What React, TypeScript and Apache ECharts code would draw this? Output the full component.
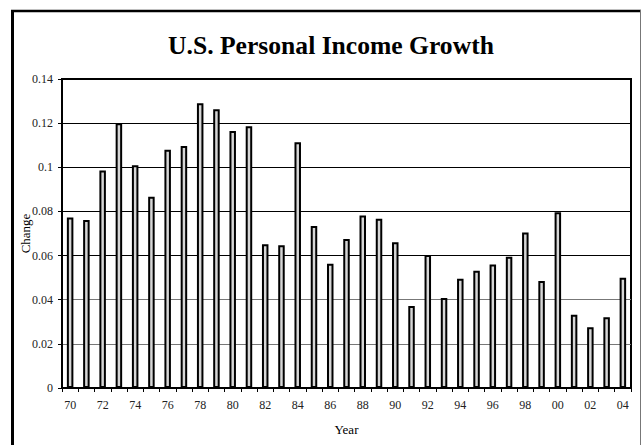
import React, { useEffect, useRef } from "react";
import * as echarts from "echarts";

const years = [
  "70", "71", "72", "73", "74", "75", "76", "77", "78", "79",
  "80", "81", "82", "83", "84", "85", "86", "87", "88", "89",
  "90", "91", "92", "93", "94", "95", "96", "97", "98", "99",
  "00", "01", "02", "03", "04",
];

const changes = [
  0.0773, 0.0761, 0.0986, 0.1199, 0.1009, 0.0867, 0.108, 0.1096, 0.129, 0.1263,
  0.1164, 0.1186, 0.0651, 0.0647, 0.1113, 0.0734, 0.0563, 0.0675, 0.0782, 0.0767,
  0.066, 0.0372, 0.0603, 0.0408, 0.0495, 0.0531, 0.056, 0.0595, 0.0705, 0.0485,
  0.0796, 0.0332, 0.0275, 0.032, 0.05,
];

const titleText = "U.S. Personal Income Growth";
const xName = "Year";
const yName = "Change";

const FONT = '"Liberation Serif", "Times New Roman", serif';

export default function App() {
  const ref = useRef<HTMLDivElement>(null);

  useEffect(() => {
    if (!ref.current) return;
    const chart = echarts.init(ref.current, null, { renderer: "svg" });
    chart.setOption({
      animation: false,
      backgroundColor: "#ffffff",
      textStyle: { fontFamily: FONT },
      title: {
        text: titleText,
        left: 326,
        top: 27,
        textAlign: "center",
        textStyle: {
          fontFamily: FONT,
          fontSize: 25.6,
          fontWeight: "bold",
          color: "#000",
        },
      },
      graphic: [
        {
          type: "line",
          shape: { x1: 12.5, y1: 10, x2: 12.5, y2: 445 },
          style: { stroke: "#000", lineWidth: 3 },
        },
        {
          type: "line",
          shape: { x1: 11, y1: 11, x2: 641, y2: 11 },
          style: { stroke: "#000", lineWidth: 2.5 },
        },
        {
          type: "line",
          shape: { x1: 640.5, y1: 10, x2: 640.5, y2: 445 },
          style: { stroke: "#777", lineWidth: 1 },
        },
      ],
      grid: {
        left: 62,
        top: 79,
        right: 10,
        bottom: 57,
        show: true,
        borderColor: "#000",
        borderWidth: 2,
        backgroundColor: "transparent",
      },
      xAxis: {
        type: "category",
        data: years,
        boundaryGap: true,
        name: xName,
        nameLocation: "middle",
        nameGap: 35,
        nameMoveOverlap: false,
        nameTextStyle: { fontFamily: FONT, fontSize: 13, color: "#000" },
        axisLine: { show: true, lineStyle: { color: "#000", width: 2 } },
        axisTick: {
          show: true,
          interval: 0,
          length: 4,
          inside: false,
          lineStyle: { color: "#000", width: 1 },
        },
        axisLabel: {
          interval: 1,
          margin: 11,
          fontFamily: FONT,
          fontSize: 12,
          color: "#222",
        },
        splitLine: { show: false },
      },
      yAxis: {
        type: "value",
        min: 0,
        max: 0.14,
        interval: 0.02,
        name: yName,
        nameLocation: "middle",
        nameGap: 30,
        nameMoveOverlap: false,
        nameTextStyle: { fontFamily: FONT, fontSize: 13, color: "#000" },
        axisLine: { show: true, lineStyle: { color: "#000", width: 2 } },
        axisTick: {
          show: true,
          length: 4,
          inside: false,
          lineStyle: { color: "#000", width: 1 },
        },
        axisLabel: {
          margin: 9,
          fontFamily: FONT,
          fontSize: 12,
          color: "#222",
          formatter: (v: number) => String(+v.toFixed(2)),
        },
        splitLine: {
          show: true,
          lineStyle: {
            color: ["#000", "#777", "#777", "#000", "#000", "#000", "#000", "#000"],
            width: 1,
          },
        },
      },
      series: [
        {
          type: "bar",
          data: changes,
          barWidth: 6.5,
          itemStyle: {
            color: "#d6d6d6",
            borderColor: "#000",
            borderWidth: 2,
          },
        },
      ],
    });
    return () => chart.dispose();
  }, []);

  return (
    <div
      ref={ref}
      style={{ position: "absolute", left: 0, top: 0, width: 641, height: 445 }}
    />
  );
}
